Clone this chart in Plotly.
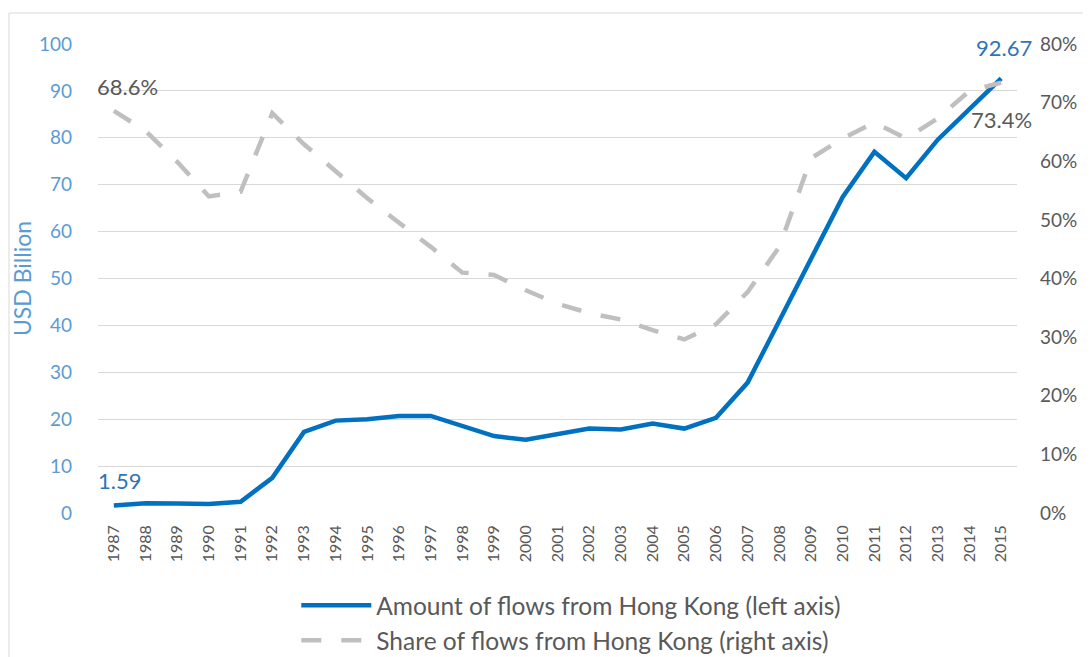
import plotly.graph_objects as go

years = [str(y) for y in range(1987, 2016)]
amount = [1.59, 2.1, 2.0, 1.9, 2.4, 7.5, 17.3, 19.7, 20.0, 20.7, 20.7, 18.5, 16.4, 15.6,
          16.8, 18.0, 17.8, 19.1, 18.0, 20.3, 27.8, 41.0, 54.2, 67.4, 77.0, 71.4, 79.6, 86.3, 92.67]
share = [68.6, 65.2, 59.9, 54.0, 54.8, 68.2, 62.9, 58.2, 53.7, 49.5, 45.4, 41.0, 40.6, 38.0,
         35.7, 34.1, 33.0, 31.2, 29.6, 32.2, 37.7, 45.4, 60.5, 63.9, 66.6, 63.9, 67.3, 72.0, 73.4]
left_ticks = list(range(0, 101, 10))
right_ticks = list(range(0, 81, 10))

FONT = "Lato"
BLUE = "#0070C0"
LBLUE = "#5B9BD5"
ABLUE = "#2E75B6"
GREY = "#BFBFBF"
TXT = "#595959"

fig = go.Figure()
fig.add_trace(go.Scatter(x=years, y=amount, mode="lines", name="Amount of flows from Hong Kong (left axis)",
                         line=dict(color=BLUE, width=4.5), yaxis="y"))
fig.add_trace(go.Scatter(x=years, y=share, mode="lines", name="Share of flows from Hong Kong (right axis)",
                         line=dict(color=GREY, width=4.5, dash="20px,20px"), yaxis="y2"))

last = len(years) - 1
fig.add_annotation(x=0, y=share[0], xref="x", yref="y2", text=f"{share[0]}%", showarrow=False,
                   xanchor="center", yanchor="middle", yshift=24, xshift=14,
                   font=dict(family=FONT, size=22, color=TXT))
fig.add_annotation(x=last, y=share[-1], xref="x", yref="y2", text=f"{share[-1]}%", showarrow=False,
                   xanchor="center", yanchor="middle", yshift=-37, xshift=0,
                   font=dict(family=FONT, size=22, color=TXT))
fig.add_annotation(x=0, y=amount[0], xref="x", yref="y", text=f"{amount[0]}", showarrow=False,
                   xanchor="center", yanchor="middle", yshift=25, xshift=6,
                   font=dict(family=FONT, size=22, color=ABLUE))
fig.add_annotation(x=last, y=amount[-1], xref="x", yref="y", text=f"{amount[-1]}", showarrow=False,
                   xanchor="center", yanchor="middle", yshift=31, xshift=3,
                   font=dict(family=FONT, size=22, color=ABLUE))

# outer frame
W, H = 1083, 649
L, R, T, B = 90, 74, 36, 144
pw, ph = W - L - R, H - T - B
fig.add_shape(type="rect", xref="paper", yref="paper",
              x0=(1 - L) / pw, x1=(W + 20 - L) / pw, y0=-(B + 20) / ph, y1=1 + (T - 5) / ph,
              line=dict(color="#D9D9D9", width=1), layer="below")

fig.update_layout(
    width=W, height=H,
    margin=dict(l=L, r=R, t=T, b=B, autoexpand=False),
    paper_bgcolor="white", plot_bgcolor="white",
    font=dict(family=FONT, color=TXT),
    showlegend=True,
    legend=dict(orientation="v", x=0.515, xanchor="center", y=-0.149, yanchor="top",
                font=dict(family=FONT, size=24.5, color=TXT), itemwidth=70,
                tracegroupgap=4),
    xaxis=dict(type="category", range=[-0.5, len(years) - 0.5], tickangle=-90,
               tickfont=dict(family=FONT, size=16, color=TXT), showgrid=False,
               showline=False, ticks="", ticklabelstandoff=8),
    yaxis=dict(range=[0, 100], tickvals=left_ticks, showgrid=True, gridcolor="#D9D9D9",
               gridwidth=1, zeroline=False, tickfont=dict(family=FONT, size=19, color=LBLUE),
               title=dict(text="USD Billion", font=dict(family=FONT, size=23, color=LBLUE), standoff=0),
               ticks="", ticklabelstandoff=25),
    yaxis2=dict(range=[0, 80], tickvals=right_ticks, ticktext=[f"{t}%" for t in right_ticks],
                overlaying="y", side="right", showgrid=False, zeroline=False,
                tickfont=dict(family=FONT, size=19, color=TXT), ticks="", ticklabelstandoff=22),
)

fig.write_html("out.html")
